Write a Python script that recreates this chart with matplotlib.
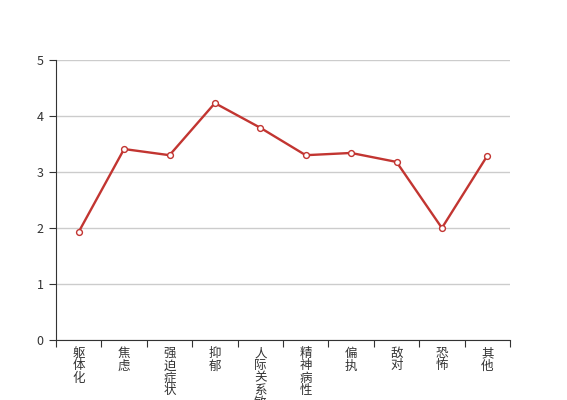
import numpy as np
import matplotlib
matplotlib.use("Agg")
import matplotlib.pyplot as plt

plt.rcParams["font.family"] = ["Noto Sans CJK SC", "DejaVu Sans"]

categories = ["躯体化", "焦虑", "强迫症状", "抑郁", "人际关系敏感",
              "精神病性", "偏执", "敌对", "恐怖", "其他"]
scores = [1.93, 3.41, 3.30, 4.23, 3.79, 3.30, 3.34, 3.18, 2.00, 3.29]
y_ticks = [0, 1, 2, 3, 4, 5]

axis_color = "#333333"
line_color = "#c23531"

fig = plt.figure(figsize=(5.67, 4.0), dpi=100)
ax = fig.add_axes([56 / 567, 60 / 400, 454 / 567, 280 / 400])

x = np.arange(len(categories))
ax.plot(x, scores, color=line_color, lw=1.7, marker="o", ms=4.2,
        mfc="white", mec=line_color, mew=1, zorder=3, clip_on=False)

ax.set_xlim(-0.5, len(categories) - 0.5)
ax.set_ylim(0, 5)
ax.set_yticks(y_ticks)
ax.grid(axis="y", color="#cccccc", lw=1)
ax.set_axisbelow(True)

# ticks on the band boundaries, labels written top-down under each band
ax.set_xticks(np.arange(len(categories) + 1) - 0.5)
ax.set_xticklabels([])
for i, name in enumerate(categories):
    ax.text(i, -0.13, "\n".join(name), ha="center", va="top",
            fontsize=9, color=axis_color, linespacing=0.92)

for side in ["top", "right"]:
    ax.spines[side].set_visible(False)
for side in ["left", "bottom"]:
    ax.spines[side].set_color(axis_color)
ax.tick_params(axis="both", colors=axis_color, length=5, labelsize=9)
ax.tick_params(axis="y", pad=4)

fig.savefig("out.png", dpi=100)
